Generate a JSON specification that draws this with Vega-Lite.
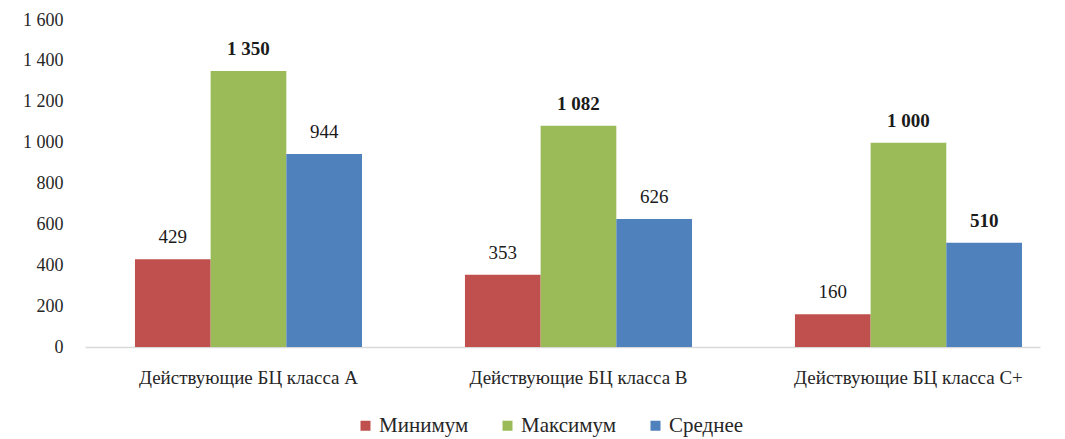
{
  "$schema": "https://vega.github.io/schema/vega-lite/v6.json",
  "width": 955,
  "height": 327,
  "autosize": "none",
  "padding": {"left": 85, "top": 20, "right": 25, "bottom": 92},
  "background": "white",
  "config": {
    "font": "Liberation Serif",
    "view": {"stroke": null}
  },
  "data": {
    "values": [
      {"group": "Действующие БЦ класса А", "series": "Минимум", "value": 429},
      {"group": "Действующие БЦ класса А", "series": "Максимум", "value": 1350},
      {"group": "Действующие БЦ класса А", "series": "Среднее", "value": 944},
      {"group": "Действующие БЦ класса В", "series": "Минимум", "value": 353},
      {"group": "Действующие БЦ класса В", "series": "Максимум", "value": 1082},
      {"group": "Действующие БЦ класса В", "series": "Среднее", "value": 626},
      {"group": "Действующие БЦ класса С+", "series": "Минимум", "value": 160},
      {"group": "Действующие БЦ класса С+", "series": "Максимум", "value": 1000},
      {"group": "Действующие БЦ класса С+", "series": "Среднее", "value": 510}
    ]
  },
  "transform": [
    {"calculate": "replace(format(datum.value, ','), ',', ' ')", "as": "label"}
  ],
  "encoding": {
    "x": {
      "field": "group",
      "type": "nominal",
      "sort": null,
      "title": null,
      "scale": {"paddingInner": 0.312, "paddingOuter": 0.103, "align": 0.735},
      "axis": {
        "labelAngle": 0,
        "labelFont": "Liberation Serif",
        "labelFontSize": 19,
        "labelColor": "#262626",
        "labelPadding": 21,
        "labelLimit": 0,
        "ticks": false,
        "domainColor": "#d9d9d9",
        "domainWidth": 1.5
      }
    },
    "xOffset": {
      "field": "series",
      "type": "nominal",
      "sort": ["Минимум", "Максимум", "Среднее"]
    },
    "y": {
      "field": "value",
      "type": "quantitative",
      "title": null,
      "scale": {"domain": [0, 1600]},
      "axis": {
        "values": [0, 200, 400, 600, 800, 1000, 1200, 1400, 1600],
        "labelExpr": "replace(format(datum.value, ','), ',', ' ')",
        "labelFont": "Liberation Serif",
        "labelFontSize": 18,
        "labelColor": "#262626",
        "labelPadding": 22,
        "domain": false,
        "ticks": false,
        "grid": false
      }
    }
  },
  "layer": [
    {
      "mark": {"type": "bar"},
      "encoding": {
        "color": {
          "field": "series",
          "type": "nominal",
          "title": null,
          "scale": {
            "domain": ["Минимум", "Максимум", "Среднее"],
            "range": ["#C0504D", "#9BBB59", "#4F81BD"]
          },
          "legend": {
            "orient": "none",
            "legendX": 270,
            "legendY": 395,
            "direction": "horizontal",
            "symbolType": "square",
            "symbolSize": 100,
            "symbolStrokeWidth": 0,
            "labelFont": "Liberation Serif",
            "labelFontSize": 21,
            "labelColor": "#262626",
            "columnPadding": 28,
            "labelOffset": 3
          }
        }
      }
    },
    {
      "transform": [{"filter": "!(datum.series == 'Максимум' || datum.value == 510)"}],
      "mark": {"type": "text", "baseline": "bottom", "dy": -12, "fontSize": 19, "font": "Liberation Serif", "color": "#1a1a1a"},
      "encoding": {
        "text": {"field": "label", "type": "nominal"}
      }
    },
    {
      "transform": [{"filter": "datum.series == 'Максимум' || datum.value == 510"}],
      "mark": {"type": "text", "baseline": "bottom", "dy": -12, "fontSize": 19, "font": "Liberation Serif", "fontWeight": "bold", "color": "#1a1a1a"},
      "encoding": {
        "text": {"field": "label", "type": "nominal"}
      }
    }
  ]
}
